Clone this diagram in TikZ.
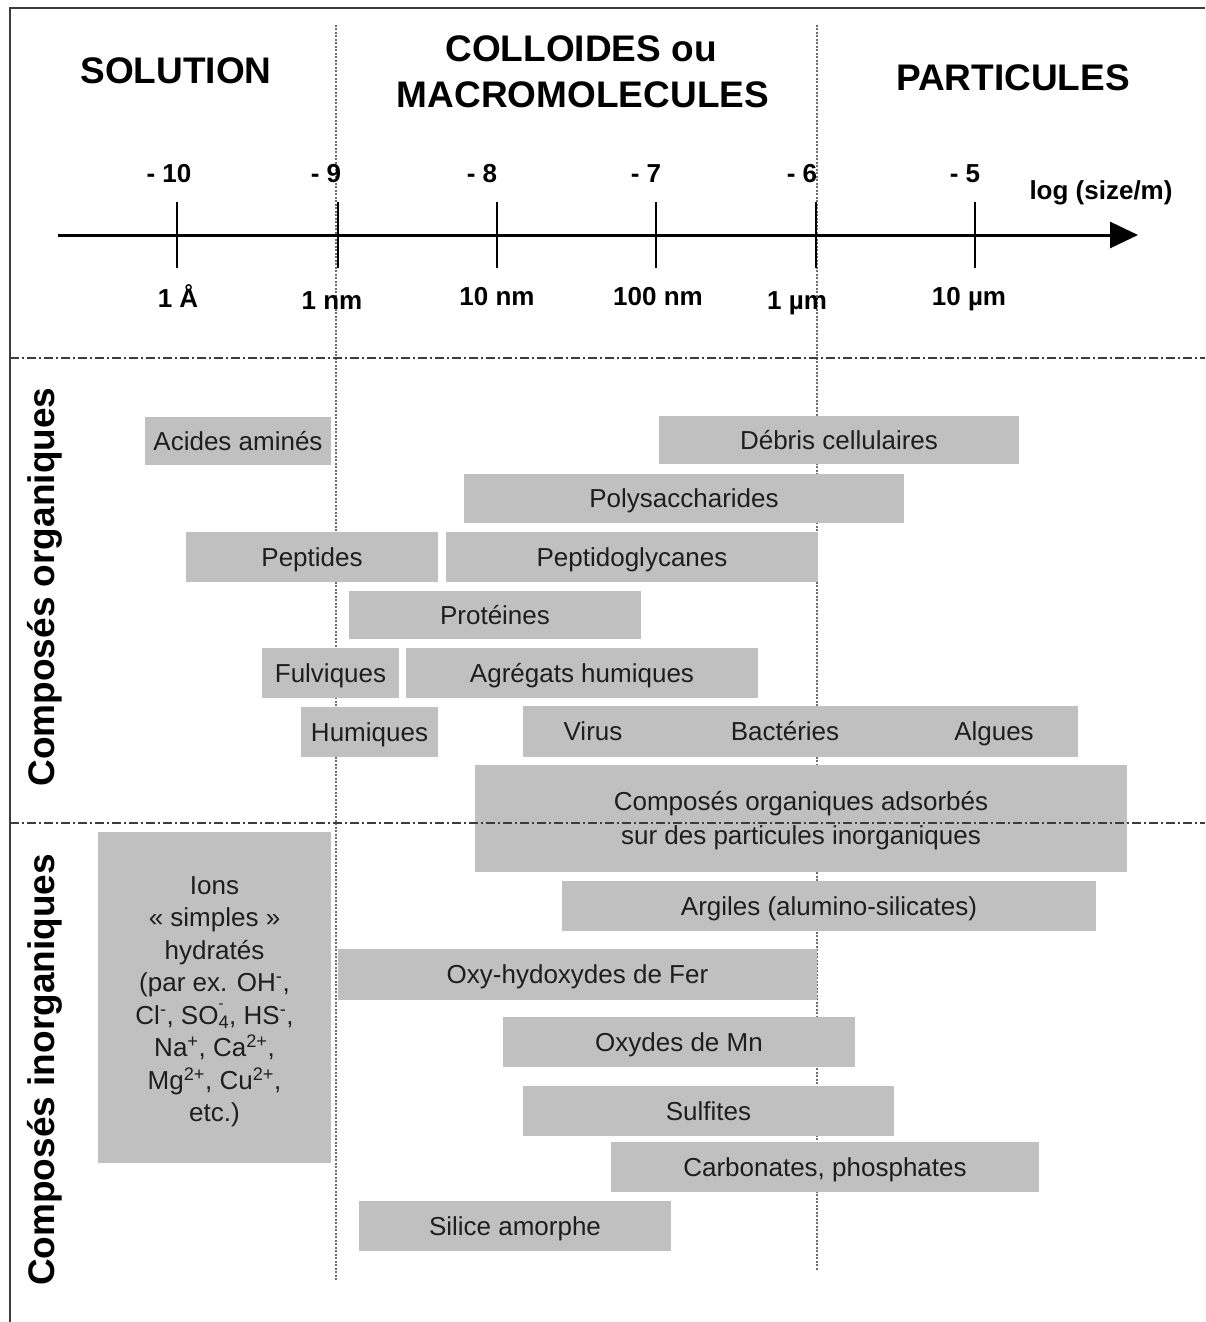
\documentclass[tikz,border=0pt]{standalone}
\usepackage{fontspec}
\setmainfont{Liberation Sans}
\usetikzlibrary{arrows.meta}
\definecolor{boxgray}{RGB}{192,192,192}
\definecolor{txt}{RGB}{30,30,30}
\definecolor{dotgray}{RGB}{110,110,110}
\definecolor{framegray}{RGB}{60,60,60}
\tikzset{
  gbox/.style={fill=boxgray, draw=none, inner sep=0pt, text=txt, align=center,
               font=\fontsize{26}{32.5}\selectfont},
  gbone/.style={gbox, text height=18.6pt, text depth=0pt},
  gtext/.style={inner sep=0pt, text=txt, font=\fontsize{26}{32.5}\selectfont, text height=18.6pt, text depth=0pt},
  head/.style={font=\bfseries\fontsize{37}{40}\selectfont, anchor=base, inner sep=0pt},
  axlab/.style={font=\bfseries\fontsize{26}{28}\selectfont, anchor=base, inner sep=0pt},
  sidelab/.style={font=\bfseries\fontsize{37}{40}\selectfont, rotate=90, inner sep=0pt},
  vdot/.style={dotgray, line width=1.5pt, dash pattern=on 2pt off 1.5pt},
  hdash/.style={framegray, line width=1.5pt, dash pattern=on 9pt off 3pt on 2pt off 3pt},
  tickline/.style={line width=2pt},
}
\newcommand{\gb}[7][gbone]{\node[#1, minimum width={#5-#3}, minimum height={#6-#4}] (#2) at ({(#3+#5)/2},{(#4+#6)/2}) {#7};}
\newcommand{\supmin}{\rlap{\raisebox{0.62em}{\fontsize{15}{15}\selectfont -}}}
\begin{document}
\begin{tikzpicture}[x=1pt,y=-1pt]
\useasboundingbox (0,0) rectangle (1205,1322);
\fill[white] (0,0) rectangle (1205,1322);

% frame
\coordinate (fr1) at (1205,8);
\coordinate (fr2) at (10,8);
\coordinate (fr3) at (10,1322);
\draw[framegray, line width=2pt] (fr1) -- (fr2) -- (fr3);

% vertical dotted limits
\coordinate (v1a) at (336,25);
\coordinate (v1b) at (336,1280);
\coordinate (v2a) at (817,25);
\coordinate (v2b) at (817,1270);
\draw[vdot] (v1a) -- (v1b);
\draw[vdot] (v2a) -- (v2b);

% headers
\node[head] (hsol) at (176,83) {SOLUTION};
\node[head] (hcol) at (581,62) {COLLOIDES ou};
\node[head] (hmac) at (583,107) {MACROMOLECULES};
\node[head] (hpar) at (1013,90) {PARTICULES};

% axis
\coordinate (axs) at (58,235);
\coordinate (axe) at (1138,235);
\draw[line width=3pt, -{Triangle[length=28pt, width=26pt]}] (axs) -- (axe);
\foreach \x in {177,338,497,656,816,975} \draw[tickline] (\x,202) -- (\x,268);

\node[axlab] (t10) at (169,182) {- 10};
\node[axlab] (t9) at (326,182) {- 9};
\node[axlab] (t8) at (482,182) {- 8};
\node[axlab] (t7) at (646,182) {- 7};
\node[axlab] (t6) at (802,182) {- 6};
\node[axlab] (t5) at (965,182) {- 5};
\node[axlab] (tlog) at (1101,199) {log (size/m)};

\node[axlab] (b1) at (178,307) {1 Å};
\node[axlab] (b2) at (332,309) {1 nm};
\node[axlab] (b3) at (497,305) {10 nm};
\node[axlab] (b4) at (658,305) {100 nm};
\node[axlab] (b5) at (797,309) {1 µm};
\node[axlab] (b6) at (969,305) {10 µm};

% side labels
\node[sidelab] (sorg) at (45,587) {Composés organiques};
\node[sidelab] (sinorg) at (45,1070) {Composés inorganiques};

% organic boxes
\gb{acides}{145}{417}{331}{465}{Acides aminés}
\gb{debris}{659}{416}{1019}{464}{Débris cellulaires}
\gb{poly}{464}{474}{904}{523}{Polysaccharides}
\gb{pept}{186}{532}{438}{582}{Peptides}
\gb{peptg}{446}{532}{818}{582}{Peptidoglycanes}
\gb{prot}{349}{591}{641}{639}{Protéines}
\gb{fulv}{262}{648}{399}{698}{Fulviques}
\gb{agreg}{406}{648}{758}{698}{Agrégats humiques}
\gb{hum}{301}{707}{438}{757}{Humiques}
\gb{vba}{523}{706}{1078}{757}{}
\node[gtext] (virus) at (593,731.5) {Virus};
\node[gtext] (bact) at (785,731.5) {Bactéries};
\node[gtext] (alg) at (994,731.5) {Algues};
\gb[gbox]{adsorb}{475}{765}{1127}{872}{\rule{0pt}{22.6pt}Composés organiques adsorbés\\[1.5pt]sur des particules inorganiques}

% inorganic boxes
\gb[gbox]{ions}{98}{832}{331}{1163}{\rule{0pt}{26.6pt}Ions\\ « simples »\\ hydratés\\ (par ex. OH\textsuperscript{-},\\ Cl\textsuperscript{-}, SO\supmin\textsubscript{4}, HS\textsuperscript{-},\\ Na\textsuperscript{+}, Ca\textsuperscript{2+},\\ Mg\textsuperscript{2+}, Cu\textsuperscript{2+},\\ etc.)}
\gb{argiles}{562}{881}{1096}{931}{Argiles (alumino-silicates)}
\gb{fer}{338}{949}{817}{1000}{Oxy-hydoxydes de Fer}
\gb{mn}{503}{1017}{855}{1067}{Oxydes de Mn}
\gb{sulf}{523}{1086}{894}{1136}{Sulfites}
\gb{carb}{611}{1142}{1039}{1192}{Carbonates, phosphates}
\gb{sil}{359}{1201}{671}{1251}{Silice amorphe}

% horizontal dash-dot separators
\coordinate (h1a) at (10,358);
\coordinate (h1b) at (1205,358);
\coordinate (h2a) at (10,823);
\coordinate (h2b) at (1205,823);
\draw[hdash] (h1a) -- (h1b);
\draw[hdash] (h2a) -- (h2b);
\end{tikzpicture}
\end{document}
